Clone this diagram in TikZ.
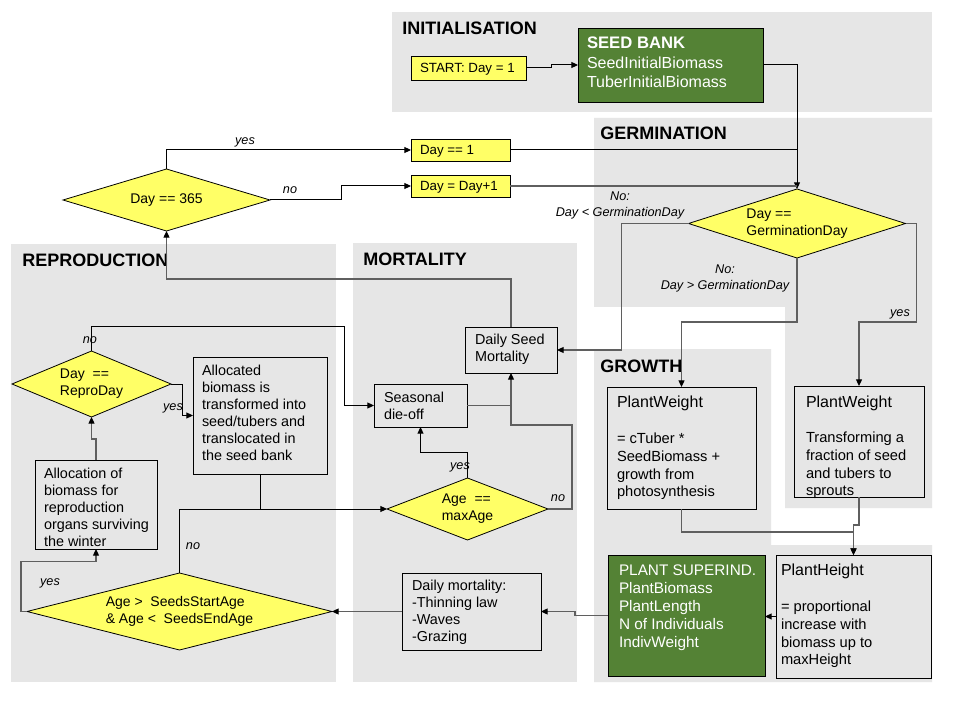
\documentclass[tikz,border=0pt]{standalone}
\usepackage{fontspec}
\setmainfont{Liberation Sans}
\usetikzlibrary{shapes.geometric,arrows.meta}
\newdimen\pxu \pxu=0.75pt
\newcommand\bxt[5]{\parbox[c][#2\pxu][t]{#1\pxu}{\raggedright\leftskip=#3\pxu\relax\rule{0pt}{#4\pxu}#5}}
\definecolor{panelgray}{RGB}{230,230,230}
\definecolor{ylw}{RGB}{255,255,102}
\definecolor{grn}{RGB}{84,130,53}
\definecolor{lgray}{RGB}{95,95,95}
\tikzset{
 head/.style={anchor=west, font=\fontsize{13.5}{15}\selectfont\bfseries, inner sep=0},
 box/.style={draw=black, line width=0.6pt, inner sep=0, outer sep=0, anchor=north west},
 ybox/.style={box, fill=ylw, font=\fontsize{10}{12}\selectfont},
 gbox/.style={box, fill=grn, text=white},
 tbox/.style={box, font=\fontsize{10.8}{12.75}\selectfont},
 growbox/.style={box, font=\fontsize{11}{13.3}\selectfont},
 dia/.style={diamond, draw=black, line width=0.6pt, fill=ylw, inner sep=0, outer sep=0, align=left, font=\fontsize{10.5}{12.75}\selectfont},
 conn/.style={draw=black, line width=0.75pt, -{Triangle[length=5pt,width=4.5pt]}},
 plainln/.style={draw=black, line width=0.75pt},
 connG/.style={draw=lgray, line width=0.9pt, -{Triangle[length=5pt,width=4.5pt,color=black]}},
 plainG/.style={draw=lgray, line width=0.9pt},
 lab/.style={font=\fontsize{9.5}{12}\selectfont\itshape, inner sep=0, align=center},
}
\begin{document}
\begin{tikzpicture}[x=0.75pt,y=-0.75pt]
\useasboundingbox (0,0) rectangle (960,720);
\fill[white] (0,0) rectangle (960,720);
% panels
\fill[panelgray] (392,12) rectangle (932,112);
\fill[panelgray] (594,118) -- (932,118) -- (932,508) -- (785,508) -- (785,307) -- (594,307) -- cycle;
\fill[panelgray] (11,244) rectangle (336,682);
\fill[panelgray] (353,243) rectangle (577,682);
\fill[panelgray] (594,349) -- (771,349) -- (771,545) -- (932,545) -- (932,682) -- (594,682) -- cycle;
% headings
\node[head] (hinit) at (402,28) {INITIALISATION};
\node[head] (hgerm) at (600,133) {GERMINATION};
\node[head] (hrepro) at (22,260) {REPRODUCTION};
\node[head] (hmort) at (363,259) {MORTALITY};
\node[head] (hgrow) at (600,366) {GROWTH};
% boxes
\node[ybox] (start) at (411,56) {\bxt{115}{24}{9}{16.8}{START: Day = 1}};
\node[gbox, font=\fontsize{12}{14.5}\selectfont] (seedbank) at (578,28) {\bxt{185}{74}{9}{21}{{\fontsize{12.5}{14.5}\selectfont\bfseries SEED BANK}\\SeedInitialBiomass\\TuberInitialBiomass}};
\node[ybox] (day1) at (411,139) {\bxt{99}{22}{9}{15.8}{Day == 1}};
\node[ybox] (dayinc) at (411,175) {\bxt{99}{22}{9}{15.8}{Day = Day+1}};
\node[tbox] (dsm) at (465,327) {\bxt{92}{46}{10}{17.2}{Daily Seed\\Mortality}};
\node[tbox] (seasonal) at (374,384) {\bxt{93}{43}{10}{18.2}{Seasonal\\die-off}};
\node[tbox] (allocated) at (193,357) {\bxt{134}{117}{9}{18.2}{Allocated\\biomass is\\transformed into\\seed/tubers and\\translocated in\\the seed bank}};
\node[tbox] (allocation) at (35,460) {\bxt{122}{89}{9}{18.2}{Allocation of\\biomass for\\reproduction\\organs surviving\\the winter}};
\node[tbox] (dmort) at (402,573) {\bxt{139}{77}{10}{17.2}{Daily mortality:\\-Thinning law\\-Waves\\-Grazing}};
\node[growbox] (pwl) at (607,387) {\bxt{149}{122}{10}{20.8}{{\fontsize{12}{14}\selectfont PlantWeight}\\[18\pxu]= cTuber *\\SeedBiomass +\\growth from\\photosynthesis}};
\node[growbox] (pwr) at (794,386) {\bxt{130}{111}{12}{21.5}{{\fontsize{12}{14}\selectfont PlantWeight}\\[17.5\pxu]Transforming a\\fraction of seed\\and tubers to\\sprouts}};
\node[gbox, font=\fontsize{11.5}{13.5}\selectfont] (green) at (608,555) {\bxt{157}{121}{11}{20.5}{PLANT SUPERIND.\\PlantBiomass\\PlantLength\\N of Individuals\\IndivWeight}};
\node[growbox] (pheight) at (776,555) {\bxt{155}{123}{5}{20.8}{{\fontsize{12}{14}\selectfont PlantHeight}\\[18\pxu]= proportional\\increase with\\biomass up to\\maxHeight}};
% diamonds
\node[dia, minimum width=207*0.75pt, minimum height=62*0.75pt, aspect=3.34] (d365) at (166.5,200) {Day == 365};
\node[dia, minimum width=217*0.75pt, minimum height=69*0.75pt, aspect=3.14] (dgerm) at (797,223.5) {Day ==\\GerminationDay};
\node[dia, minimum width=159*0.75pt, minimum height=66*0.75pt, aspect=2.4] (drepro) at (91.5,384) {Day\ \ ==\\ReproDay};
\node[dia, minimum width=161*0.75pt, minimum height=62*0.75pt, aspect=2.6] (dage) at (467.5,509) {Age\ \ ==\\maxAge};
\node[dia, minimum width=305*0.75pt, minimum height=77*0.75pt, aspect=3.96] (dseeds) at (179.5,611.5) {Age >\ \ SeedsStartAge\\\&\ Age <\ \ SeedsEndAge};
% connectors
\draw[conn] (start.east) -- ++(25,0) |- (seedbank.west);
\draw[conn] (seedbank.east) -| (dgerm.north);
\draw[plainln] (day1.east) -- (day1.east -| dgerm.north);
\draw[plainG] (dayinc.east) -- (dayinc.east -| dgerm.north);
\draw[conn] (d365.north) |- (day1.west);
\draw[conn] (d365.east) -- ++(71,0) |- (dayinc.west);
\draw[connG] (dsm.north) -- ++(0,-48) -| (d365.south);
\draw[conn] (drepro.north) -- ++(0,-25) -- (344,326) |- (seasonal.west);
\draw[conn] (drepro.east) -- ++(11,0) |- (allocated.west);
\draw[connG] (allocation.north) -- ++(0,-21) -| (drepro.south);
\draw[connG] (dseeds.west) -- ++(-6,0) -- ++(0,-50) -| (allocation.south);
\draw[conn] (dseeds.north) |- (dage.west);
\draw[plainln] (allocated.south) -- (allocated.south |- dage.west);
\draw[conn] (dage.north) -- ++(0,-26) -| (seasonal.south);
\draw[connG] (dage.east) -- ++(24,0) -- ++(0,-84) -| (dsm.south);
\draw[plainG] (seasonal.east) -- (seasonal.east -| dsm.south);
\draw[connG] (dgerm.west) -- ++(-67,0) |- (dsm.east);
\draw[connG] (dgerm.south) -- ++(0,64) -| (pwl.north);
\draw[connG] (dgerm.east) -- ++(11,0) -- ++(0,98.5) -| (pwr.north);
\draw[connG] (pwl.south) -- ++(0,23) -| (pheight.north);
\draw[connG] (pwr.south) -- ++(0,28) -| (pheight.north);
\draw[conn] (pheight.west) -- (pheight.west -| green.east);
\draw[connG] (green.west) -- ++(-33,0) |- (dmort.east);
\draw[connG] (dmort.west) -- (dseeds.east);
% labels
\node[lab] (l1) at (245,142) {yes};
\node[lab] (l2) at (290,190) {no};
\node[lab] (l3) at (620,205) {No:\\Day < GerminationDay};
\node[lab] (l4) at (725,278) {No:\\Day > GerminationDay};
\node[lab] (l5) at (900,314) {yes};
\node[lab] (l6) at (90,340) {no};
\node[lab] (l7) at (173,408) {yes};
\node[lab] (l8) at (50,583) {yes};
\node[lab] (l9) at (193,546) {no};
\node[lab] (l10) at (460,467) {yes};
\node[lab] (l11) at (558,498) {no};
\end{tikzpicture}
\end{document}
